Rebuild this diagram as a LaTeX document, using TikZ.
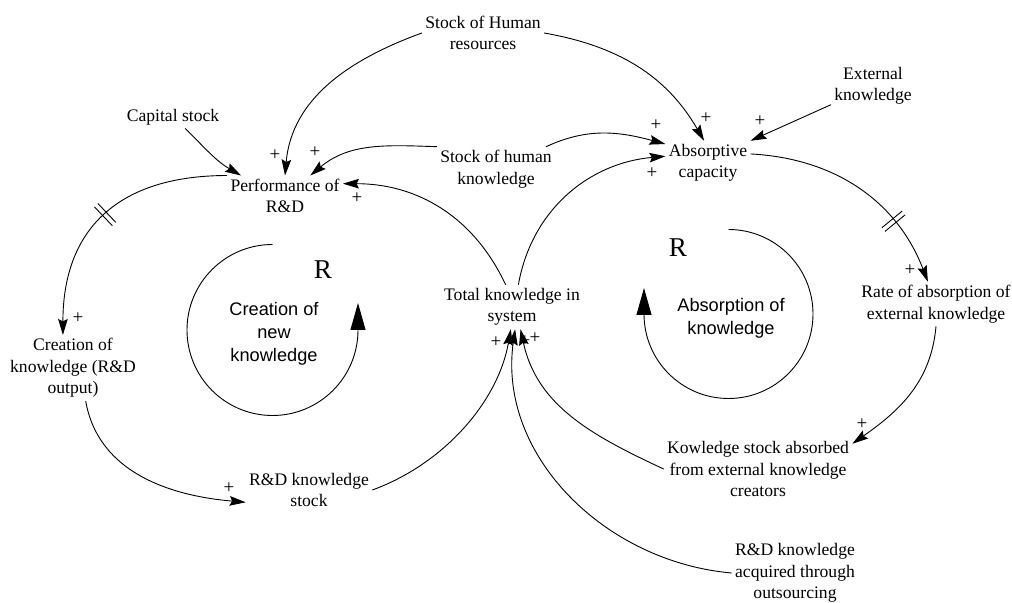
\documentclass[tikz,border=0pt]{standalone}
\usepackage{fontspec}
\setmainfont{Liberation Serif}
\newfontfamily\lazofont{Liberation Sans}
\usepackage{tikz}
\usetikzlibrary{arrows.meta,decorations.markings}

\begin{document}
\begin{tikzpicture}[>={Stealth[length=8pt,width=4.8pt,inset=1.2pt]}, x=0.5pt, y=0.5pt, line width=0.45pt,
    var/.style={align=center, inner sep=1.5pt, font=\fontsize{8.8}{10.75}\selectfont},
    lazo/.style={align=center, inner sep=0pt, font=\lazofont\fontsize{9.1}{11.4}\selectfont},
    erre/.style={inner sep=0pt, font=\fontsize{13.6}{14}\selectfont},
    signo/.style={inner sep=0pt, font=\fontsize{9.5}{9.5}\selectfont},
    giro/.style={-{Triangle[length=13.5pt,width=7.5pt]}},
    retardo/.style={postaction={decorate,decoration={markings,
        mark=at position #1 with {\draw[-] (-1.2pt,-6.5pt) -- (-1.2pt,6.5pt) (1.2pt,-6.5pt) -- (1.2pt,6.5pt);}}}}]

\useasboundingbox (0,0) rectangle (1012,-603);

% Variables
\node[var] (hres) at (483,-33) {Stock of Human\\resources};
\node[var] (cap) at (173,-117) {Capital stock};
\node[var] (perf) at (285,-196) {Performance of\\R\&D};
\node[var] (hknow) at (496,-169) {Stock of human\\knowledge};
\node[var] (absc) at (708,-163) {Absorptive\\capacity};
\node[var] (ext) at (873,-86) {External\\knowledge};
\node[var] (rate) at (936,-304) {Rate of absorption of\\external knowledge};
\node[var] (total) at (512,-307) {Total knowledge in\\system};
\node[var] (create) at (73,-368) {Creation of\\knowledge (R\&D\\output)};
\node[var] (rdstock) at (309,-490) {R\&D knowledge\\stock};
\node[var] (absorbed) at (758,-469) {Kowledge stock absorbed\\from external knowledge\\creators};
\node[var] (outs) at (795,-573) {R\&D knowledge\\acquired through\\outsourcing};

% Bucles
\node[erre] (rA) at (323,-270) {R};
\node[lazo] (lA) at (274,-334) {Creation of\\new\\knowledge};
\node[erre] (rB) at (678,-248) {R};
\node[lazo] (lB) at (731,-318) {Absorption of\\knowledge};
\coordinate (cA) at (272.5,-330);
\coordinate (cB) at (728.5,-314);
\draw[giro] (cA) ++(0,85.5) arc[start angle=90,end angle=360,radius=85.5] -- ++(0,27);
\draw[giro] (cB) ++(0,84.5) arc[start angle=90,end angle=-180,radius=84.5] -- ++(0,26);

% Enlaces
\draw[->] (cap.-43) to[out=-45,in=150] (perf.155);
\draw[->] (hres.west) to[out=200,in=85] (perf.north);
\draw[->] (hres.east) to[out=-10,in=120] (absc.100);
\draw[->] (hknow.north west) to[out=178,in=40] (perf.39);
\draw[->] (hknow.24) to[out=25,in=165] (absc.156);
\draw[->] (total.106) to[out=115,in=0] (perf.12);
\draw[->] (total.74) to[out=80,in=185] (absc.171);
\draw[->] (ext.204) -- (absc.north east);
\draw[->,retardo=0.7] (absc.12) to[out=-3,in=111] (rate.110);
\draw[->] (rate.south) to[out=-95,in=35] (absorbed.15);
\draw[->] (absorbed.west) to[out=155,in=-78] (total.-69);
\draw[->] (rdstock.east) to[out=20,in=-100,looseness=0.9] (total.-93);
\draw[->] (outs.west) to[out=175,in=-98] (total.-82);
\draw[->,retardo=0.5] (perf.north west) to[out=180,in=90,looseness=1.2] (create.107);
\draw[->] (create.-69) to[out=-80,in=175] (rdstock.191);

% Signos
\foreach \px/\py [count=\i] in {275/155, 315/152, 357/198, 656/125, 706/118, 652/173, 760/121,
    910/270, 862/424, 496/342, 525/341, 535/338, 78/318, 229/488}
    \node[signo] (s\i) at (\px,-\py) {+};

\end{tikzpicture}
\end{document}
